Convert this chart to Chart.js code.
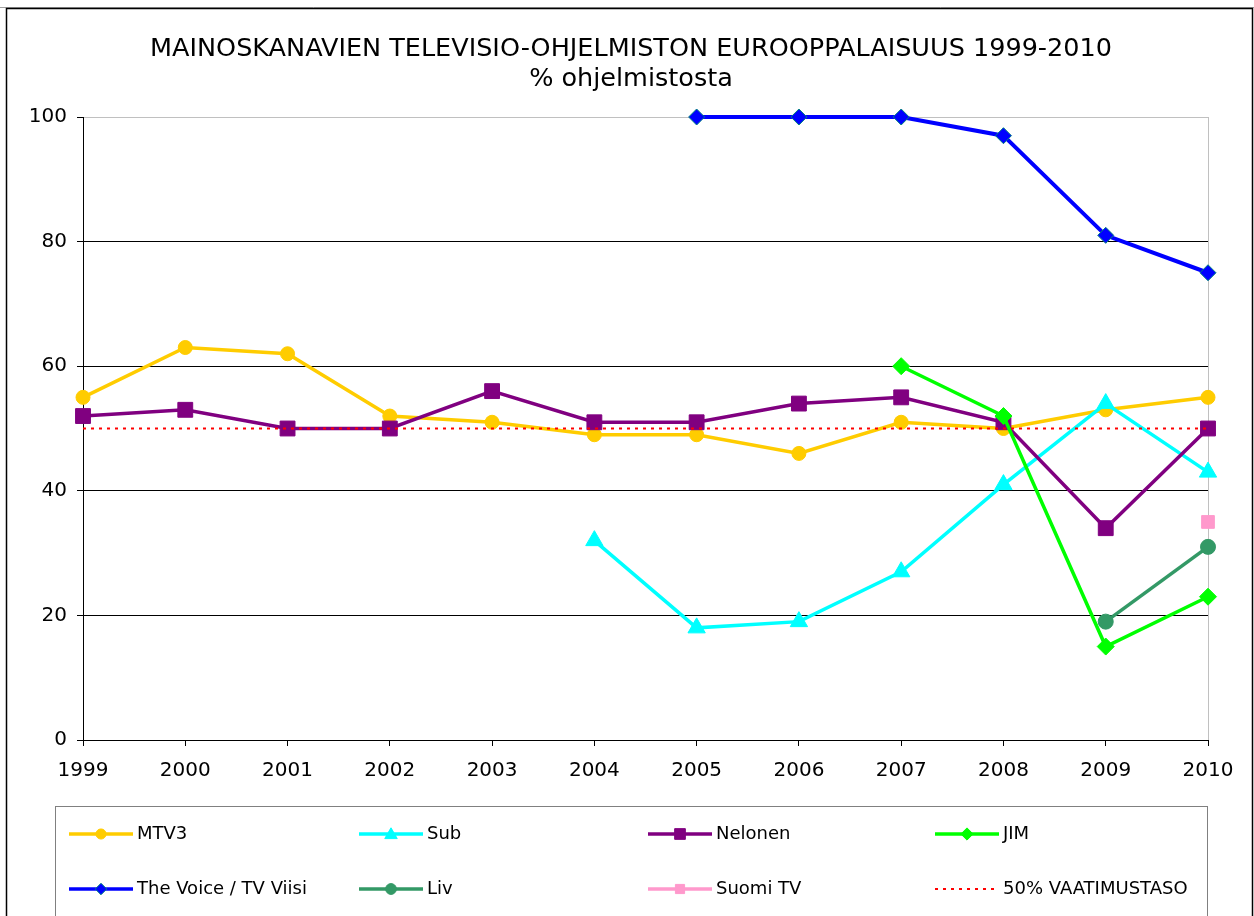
<!DOCTYPE html>
<html>
<head>
<meta charset="utf-8">
<script src="https://cdn.jsdelivr.net/npm/chart.js@4/dist/chart.umd.min.js"></script>
<style>
  html, body { margin: 0; padding: 0; background: #fff; }
  #wrap { width: 1254px; height: 916px; position: relative; }
</style>
</head>
<body>
<div id="wrap"><canvas id="c" width="1254" height="916"></canvas></div>
<script>
const titleLines = ['MAINOSKANAVIEN TELEVISIO-OHJELMISTON EUROOPPALAISUUS 1999-2010', '% ohjelmistosta'];
const years = ['1999','2000','2001','2002','2003','2004','2005','2006','2007','2008','2009','2010'];
const mtv3    = [55, 63, 62, 52, 51, 49, 49, 46, 51, 50, 53, 55];
const sub     = [null, null, null, null, null, 32, 18, 19, 27, 41, 54, 43];
const nelonen = [52, 53, 50, 50, 56, 51, 51, 54, 55, 51, 34, 50];
const jim     = [null, null, null, null, null, null, null, null, 60, 52, 15, 23];
const voice   = [null, null, null, null, null, null, 100, 100, 100, 97, 81, 75];
const liv     = [null, null, null, null, null, null, null, null, null, null, 19, 31];
const suomiTv = [null, null, null, null, null, null, null, null, null, null, null, 35];
const requirement = [50, 50, 50, 50, 50, 50, 50, 50, 50, 50, 50, 50];
const seriesNames = ['MTV3', 'Sub', 'Nelonen', 'JIM', 'The Voice / TV Viisi', 'Liv', 'Suomi TV', '50% VAATIMUSTASO'];
const yTicks = [0, 20, 40, 60, 80, 100];

const FONT = '"DejaVu Sans", Verdana, sans-serif';

function ds(label, data, color, style, radius, extra) {
  return Object.assign({
    label, data,
    borderColor: color, backgroundColor: color,
    pointBackgroundColor: color, pointBorderColor: color,
    borderWidth: 3.5, pointStyle: style, pointRadius: radius, pointBorderWidth: 1,
    pointHoverRadius: radius, tension: 0, spanGaps: false, clip: false
  }, extra || {});
}

const datasets = [
  ds(seriesNames[0], mtv3, '#FFCC00', 'circle', 7),
  ds(seriesNames[1], sub, '#00FFFF', 'triangle', 10),
  ds(seriesNames[2], nelonen, '#800080', 'rect', 10.5),
  ds(seriesNames[3], jim, '#00FF00', 'rectRot', 8.5),
  ds(seriesNames[4], voice, '#0000FF', 'rectRot', 8, { pointBorderColor: '#008080', borderWidth: 4 }),
  ds(seriesNames[5], liv, '#339966', 'circle', 7.5),
  ds(seriesNames[6], suomiTv, '#FF99CC', 'rect', 9),
  ds(seriesNames[7], requirement, '#FF0000', 'line', 0, { borderWidth: 2, borderDash: [3, 5] })
];
datasets.forEach((d, i) => { d.order = -i; });

const framePlugin = {
  id: 'frame',
  beforeDraw(chart) {
    const ctx = chart.ctx;
    ctx.save();
    ctx.fillStyle = '#fff';
    ctx.fillRect(0, 0, chart.width, chart.height);
    ctx.restore();
  },
  afterDraw(chart) {
    const ctx = chart.ctx;
    ctx.save();
    // outer frame
    ctx.strokeStyle = '#A0A0A0';
    ctx.lineWidth = 1;
    ctx.beginPath(); ctx.moveTo(0, 7.5); ctx.lineTo(1254, 7.5); ctx.stroke();
    ctx.strokeStyle = '#000';
    ctx.lineWidth = 1.5;
    ctx.strokeRect(6.5, 8.5, 1246, 930);
    // title
    ctx.fillStyle = '#000';
    ctx.font = '25.5px ' + FONT;
    ctx.textAlign = 'center';
    ctx.textBaseline = 'middle';
    ctx.fillText(titleLines[0], 631, 49);
    ctx.fillText(titleLines[1], 631, 79);
    // legend box
    ctx.strokeStyle = '#808080';
    ctx.lineWidth = 1;
    ctx.strokeRect(55.5, 806.5, 1152, 130);
    const cols = [69, 359, 648, 935];
    const rows = [834, 889];
    ctx.font = '18px ' + FONT;
    ctx.textAlign = 'left';
    chart.data.datasets.forEach((d, i) => {
      const x0 = cols[i % 4], y = rows[Math.floor(i / 4)];
      ctx.save();
      ctx.strokeStyle = d.borderColor;
      ctx.lineWidth = Math.min(d.borderWidth, 3.5);
      ctx.setLineDash(d.borderDash || []);
      ctx.beginPath();
      ctx.moveTo(x0, y); ctx.lineTo(x0 + (d.borderDash ? 60 : 64), y);
      ctx.stroke();
      ctx.restore();
      if (d.pointRadius > 0) {
        ctx.save();
        ctx.fillStyle = d.pointBackgroundColor;
        ctx.strokeStyle = d.pointBorderColor;
        ctx.lineWidth = 1;
        Chart.helpers.drawPoint(ctx, {
          pointStyle: d.pointStyle, radius: d.pointRadius * 0.72, rotation: 0, borderWidth: 1
        }, x0 + 32, y + (d.pointStyle === 'triangle' ? 1 : 0));
        ctx.restore();
      }
      ctx.fillStyle = '#000';
      ctx.fillText(d.label, x0 + 68, y);
    });
    ctx.restore();
  }
};

new Chart(document.getElementById('c'), {
  type: 'line',
  data: { labels: years, datasets },
  options: {
    responsive: false,
    animation: false,
    events: [],
    layout: { padding: { top: 117, left: 0, right: 46, bottom: 126 } },
    plugins: { legend: { display: false }, title: { display: false }, tooltip: { enabled: false } },
    scales: {
      x: {
        type: 'category',
        offset: false,
        afterFit(s) { s.height = 50; s.paddingLeft = 0; s.paddingRight = 0; },
        border: { display: true, color: '#000', width: 1 },
        grid: {
          display: true, drawOnChartArea: true, drawTicks: true, tickLength: 6,
          color: (c) => (c.index === years.length - 1 ? '#C0C0C0' : 'rgba(0,0,0,0)'),
          tickColor: '#000'
        },
        ticks: { color: '#000', font: { family: FONT, size: 20 }, padding: 13, maxRotation: 0, autoSkip: false }
      },
      y: {
        min: 0, max: 100,
        afterFit(s) { s.width = 83; s.paddingTop = 0; s.paddingBottom = 0; },
        afterBuildTicks(s) { s.ticks = yTicks.map(v => ({ value: v })); },
        border: { display: true, color: '#000', width: 1 },
        grid: {
          display: true, tickLength: 6,
          color: (c) => (c.tick && c.tick.value === 100 ? '#C0C0C0' : '#000'),
          tickColor: '#000'
        },
        ticks: { color: '#000', font: { family: FONT, size: 20 }, padding: 10 }
      }
    }
  },
  plugins: [framePlugin]
});
</script>
</body>
</html>
